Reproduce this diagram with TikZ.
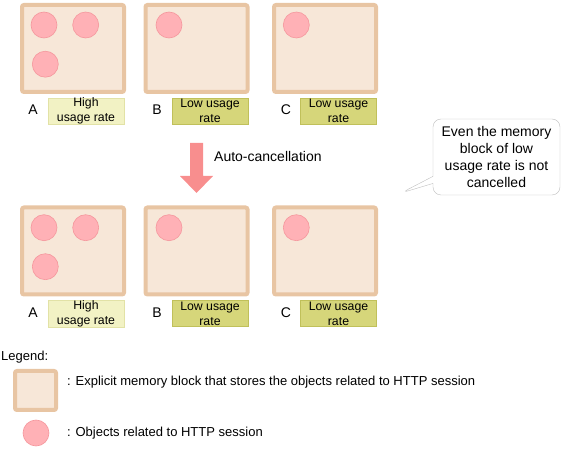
\documentclass[tikz,border=0pt]{standalone}
\usepackage{fontspec}
\setmainfont{Liberation Sans}
\usetikzlibrary{shapes.callouts}
\definecolor{blkfill}{HTML}{F7E7D8}
\definecolor{blkline}{HTML}{E8C5A3}
\definecolor{objfill}{HTML}{FFB1B6}
\definecolor{objline}{HTML}{F5979D}
\definecolor{highfill}{HTML}{F2F2C4}
\definecolor{highline}{HTML}{E2E2A6}
\definecolor{lowfill}{HTML}{D6D67A}
\definecolor{lowline}{HTML}{C0C05A}
\definecolor{arrowred}{HTML}{F88E8E}
\begin{document}
\begin{tikzpicture}[x=1pt, y=-1pt,
    block/.style={rectangle, rounded corners=2pt, minimum width=102pt, minimum height=87pt, line width=4pt, draw=blkline, fill=blkfill},
    obj/.style={circle, minimum size=26pt, inner sep=0pt, line width=0.6pt, draw=objline, fill=objfill},
    high/.style={rectangle, minimum width=76pt, minimum height=26pt, inner sep=0pt, draw=highline, fill=highfill, align=center, font=\fontsize{12.3}{15}\selectfont},
    low/.style={high, draw=lowline, fill=lowfill},
    letter/.style={font=\fontsize{14}{17}\selectfont, inner sep=0pt},
    txt/.style={font=\fontsize{14}{17}\selectfont, inner sep=0pt, anchor=west},
    legtxt/.style={txt, font=\fontsize{13}{16}\selectfont}
]
\useasboundingbox (0,0) rectangle (563,449);

% Memory blocks before
\node[block] (blockA1) at (73,48.5) {};
\node[block] (blockB1) at (196.5,48.5) {};
\node[block] (blockC1) at (325,48.5) {};

\node[obj] (objA1a) at (44,25) {};
\node[obj] (objA1b) at (85.7,25) {};
\node[obj] (objA1c) at (45.3,64.2) {};
\node[obj] (objB1) at (169,25) {};
\node[obj] (objC1) at (296.3,25) {};

\node[letter] (letA1) at (33,109.5) {A};
\node[high] (rateA1) at (86,111) {High\\usage rate};
\node[letter] (letB1) at (157,109.5) {B};
\node[low] (rateB1) at (210,111) {Low usage\\rate};
\node[letter] (letC1) at (286,109.5) {C};
\node[low] (rateC1) at (338.5,111) {Low usage\\rate};

% Auto-cancellation arrow
\fill[arrowred] (190,143) -- (203,143) -- (203,176) -- (213,176) -- (196.5,193)
    -- (180,176) -- (190,176) -- cycle;
\node[txt] (autocancel) at (214,156) {Auto-cancellation};

% Memory blocks after
\node[block] (blockA2) at (73,251) {};
\node[block] (blockB2) at (196.5,251) {};
\node[block] (blockC2) at (325,251) {};

\node[obj] (objA2a) at (44,227.7) {};
\node[obj] (objA2b) at (85.7,227.7) {};
\node[obj] (objA2c) at (45.3,266.7) {};
\node[obj] (objB2) at (169,227.7) {};
\node[obj] (objC2) at (296.3,227.7) {};

\node[letter] (letA2) at (33,312.5) {A};
\node[high] (rateA2) at (86,313.5) {High\\usage rate};
\node[letter] (letB2) at (157,312.5) {B};
\node[low] (rateB2) at (210,313.5) {Low usage\\rate};
\node[letter] (letC2) at (286,312.5) {C};
\node[low] (rateC2) at (338.5,313.5) {Low usage\\rate};

% Note
\node[rectangle callout, rounded corners=8pt, draw=black!25, fill=white,
    minimum width=127pt, minimum height=76pt, inner sep=0pt, align=center,
    callout absolute pointer={(401,193)},
    font=\fontsize{14}{17}\selectfont] (note) at (496.5,157)
    {Even the memory\\block of low\\usage rate is not\\cancelled};

% Legend
\node[legtxt] (legend) at (1,357) {Legend:};
\node[block, minimum width=41pt, minimum height=39pt] (legblock) at (35.5,390.5) {};
\node[legtxt] (legblocktxt) at (67,382) {: Explicit memory block that stores the objects related to HTTP session};
\node[obj] (legobj) at (36,433) {};
\node[legtxt] (legobjtxt) at (67,433) {: Objects related to HTTP session};

\end{tikzpicture}
\end{document}
